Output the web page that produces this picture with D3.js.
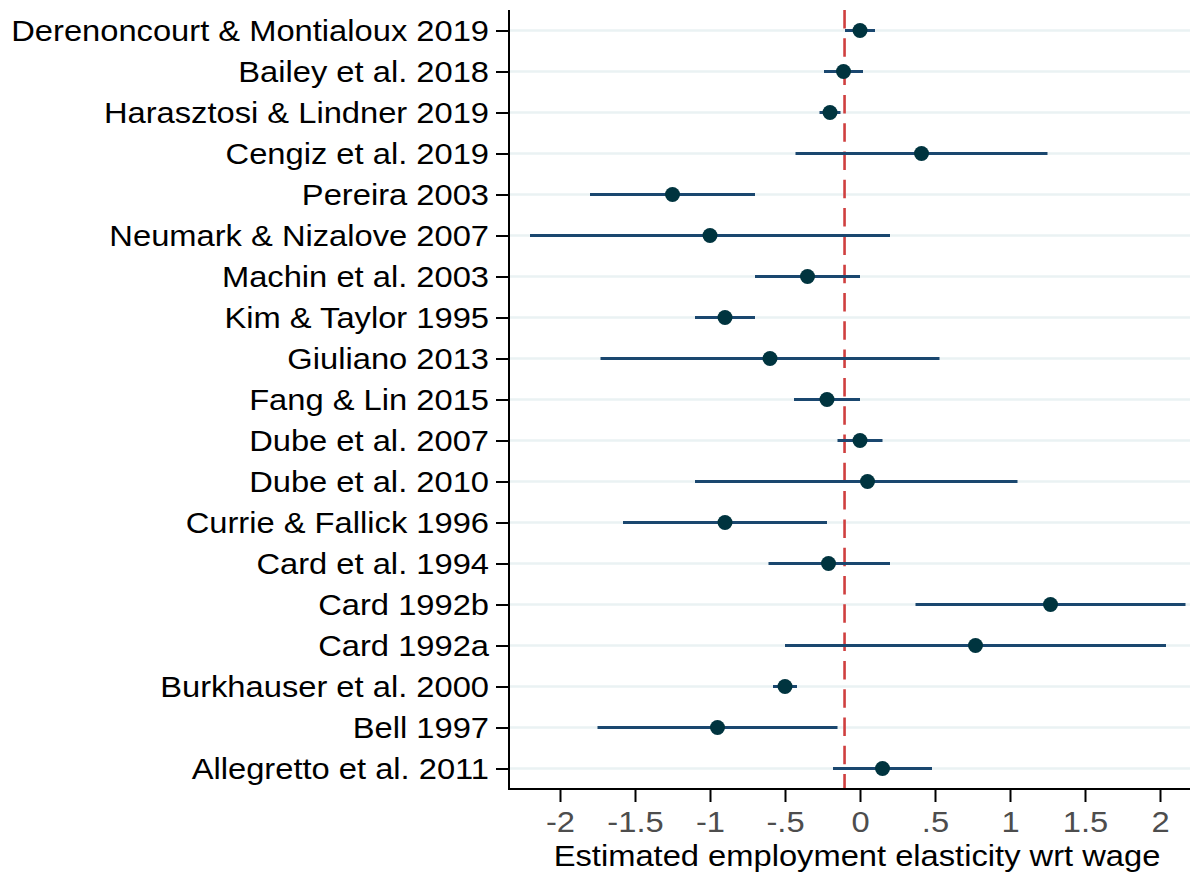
<!DOCTYPE html>
<html>
<head>
<meta charset="utf-8">
<script src="https://cdn.jsdelivr.net/npm/d3@7"></script>
<style>
  body { margin: 0; background: #fff; }
  text { font-family: "Liberation Sans", Arial, sans-serif; }
</style>
</head>
<body>
<div id="chart"></div>
<script>
// studies, top to bottom
const studies = [
  "Derenoncourt & Montialoux 2019", "Bailey et al. 2018", "Harasztosi & Lindner 2019",
  "Cengiz et al. 2019", "Pereira 2003", "Neumark & Nizalove 2007", "Machin et al. 2003",
  "Kim & Taylor 1995", "Giuliano 2013", "Fang & Lin 2015", "Dube et al. 2007",
  "Dube et al. 2010", "Currie & Fallick 1996", "Card et al. 1994", "Card 1992b",
  "Card 1992a", "Burkhauser et al. 2000", "Bell 1997", "Allegretto et al. 2011"
];
const estimates = [0.00, -0.11, -0.20, 0.41, -1.25, -1.00, -0.35, -0.90, -0.60, -0.22,
  0.00, 0.05, -0.90, -0.21, 1.27, 0.77, -0.50, -0.95, 0.15];
const ciLow = [-0.10, -0.24, -0.27, -0.43, -1.80, -2.20, -0.70, -1.10, -1.73, -0.44,
  -0.15, -1.10, -1.58, -0.61, 0.37, -0.50, -0.58, -1.75, -0.18];
const ciHigh = [0.10, 0.02, -0.13, 1.25, -0.70, 0.20, 0.00, -0.70, 0.53, 0.00,
  0.15, 1.05, -0.22, 0.20, 2.17, 2.04, -0.42, -0.15, 0.48];
const meanLine = -0.103;
const xTicks = [-2, -1.5, -1, -0.5, 0, 0.5, 1, 1.5, 2];
const xTickLabels = ["-2", "-1.5", "-1", "-.5", "0", ".5", "1", "1.5", "2"];
const xTitle = "Estimated employment elasticity wrt wage";

const W = 1190, H = 874;
const plotL = 509, plotR = 1190, plotT = 10, plotB = 789;
const stretch = 1.09; // text is a little wider than Arial
const fs = 30;

const svg = d3.select("#chart").append("svg")
  .attr("width", W).attr("height", H);

const x = d3.scaleLinear().domain([-2.34, 2.2]).range([plotL, plotR]);
const y = d3.scaleLinear().domain([-0.5, studies.length - 0.5]).range([plotT, plotB]);

// gridlines
svg.append("g").selectAll("line")
  .data(studies)
  .join("line")
  .attr("x1", plotL).attr("x2", plotR)
  .attr("y1", (d, i) => y(i)).attr("y2", (d, i) => y(i))
  .attr("stroke", "#eaf2f3").attr("stroke-width", 2.7);

// mean dashed line
svg.append("line")
  .attr("x1", x(meanLine)).attr("x2", x(meanLine))
  .attr("y1", plotT).attr("y2", plotB)
  .attr("stroke", "#cf3f3f").attr("stroke-width", 2.6)
  .attr("stroke-dasharray", "18.5,9.8");

// confidence intervals
svg.append("g").selectAll("line")
  .data(studies)
  .join("line")
  .attr("x1", (d, i) => x(ciLow[i])).attr("x2", (d, i) => x(ciHigh[i]))
  .attr("y1", (d, i) => y(i)).attr("y2", (d, i) => y(i))
  .attr("stroke", "#1a476f").attr("stroke-width", 3);

// point estimates
svg.append("g").selectAll("circle")
  .data(studies)
  .join("circle")
  .attr("cx", (d, i) => x(estimates[i]))
  .attr("cy", (d, i) => y(i))
  .attr("r", 7.5)
  .attr("fill", "#00343f");

// y axis
const yAxis = svg.append("g")
  .attr("transform", `translate(${plotL},0)`)
  .call(d3.axisLeft(y)
    .tickValues(d3.range(studies.length))
    .tickFormat(i => studies[i])
    .tickSize(13).tickPadding(8));
yAxis.select(".domain").attr("stroke", "#000").attr("stroke-width", 2)
  .attr("d", `M0,${plotT}V${plotB + 1}`);
yAxis.selectAll(".tick line").attr("stroke", "#000").attr("stroke-width", 2);
yAxis.selectAll(".tick text")
  .attr("font-size", fs)
  .attr("fill", "#000")
  .attr("x", -20 / stretch)
  .attr("dy", "0.34em")
  .attr("transform", `scale(${stretch},1)`);

// x axis
const xAxis = svg.append("g")
  .attr("transform", `translate(0,${plotB})`)
  .call(d3.axisBottom(x)
    .tickValues(xTicks)
    .tickFormat((d, i) => xTickLabels[i])
    .tickSize(13).tickPadding(10));
xAxis.select(".domain").attr("stroke", "#000").attr("stroke-width", 2)
  .attr("d", `M${plotL - 1},0H${plotR}`);
xAxis.selectAll(".tick line").attr("stroke", "#000").attr("stroke-width", 2);
xAxis.selectAll(".tick text")
  .attr("font-size", fs)
  .attr("fill", "#4d4d4d")
  .attr("y", 43).attr("dy", 0)
  .attr("transform", `scale(${stretch},1)`);

// x axis title
svg.append("text")
  .attr("transform", `translate(857,866) scale(${stretch},1)`)
  .attr("text-anchor", "middle")
  .attr("font-size", fs)
  .attr("fill", "#000")
  .text(xTitle);
</script>
</body>
</html>
